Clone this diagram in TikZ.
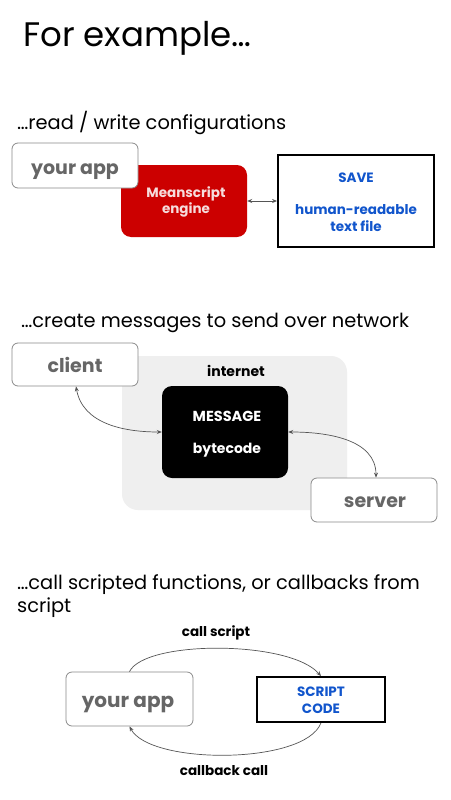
\documentclass[tikz,border=0pt]{standalone}
\usepackage{fontspec}
\setmainfont{Poppins}
\usetikzlibrary{arrows.meta}
\definecolor{appgrey}{HTML}{666666}
\definecolor{boxgrey}{HTML}{8A8A8A}
\definecolor{engred}{HTML}{CC0000}
\definecolor{engtext}{HTML}{F6DCDC}
\definecolor{savblue}{HTML}{1155CC}
\definecolor{netbg}{HTML}{EFEFEF}
\definecolor{arrgrey}{HTML}{555555}
\tikzset{
  heading/.style={anchor=base west, inner sep=0pt, font=\fontsize{19.4}{24}\selectfont},
  appbox/.style={draw=boxgrey, line width=0.8pt, fill=white, rounded corners=6pt, inner sep=0pt},
  apptext/.style={anchor=base, inner sep=0pt, text=appgrey, font=\fontsize{19}{22}\selectfont\bfseries},
  filebox/.style={draw=black, line width=1.8pt, fill=white, inner sep=0pt},
  conn/.style={draw=arrgrey, line width=0.7pt, {Stealth[length=5pt,width=4pt]}-{Stealth[length=5pt,width=4pt]}},
  oneway/.style={draw=arrgrey, line width=0.7pt, -{Stealth[length=5pt,width=4pt]}},
  lbl/.style={anchor=base, font=\fontsize{13.5}{16}\selectfont\bfseries, inner sep=0pt}
}
\begin{document}
\begin{tikzpicture}[x=1pt,y=1pt]
\useasboundingbox[fill=white] (0,0) rectangle (450,-800);
% title
\node[anchor=base west, inner sep=0pt, font=\fontsize{34}{40}\selectfont] (title) at (23,-47) {For example…};
% section 1
\node[heading] (h1) at (17,-129) {…read / write configurations};
\node[fill=engred, rounded corners=10pt, minimum width=126pt, minimum height=72pt, inner sep=0pt] (engine) at (184,-201) {};
\node[lbl, text=engtext] (engt1) at (186,-197) {Meanscript};
\node[lbl, text=engtext] (engt2) at (186,-213) {engine};
\node[appbox, minimum width=126pt, minimum height=45pt] (app1) at (75,-165.5) {};
\node[apptext] (app1t) at (75,-174) {your app};
\node[filebox, minimum width=156pt, minimum height=92pt] (save) at (356,-201) {};
\node[text=savblue, lbl] (savet) at (356,-182) {SAVE};
\node[text=savblue, lbl] (hrt1) at (356,-214) {human-readable};
\node[text=savblue, lbl] (hrt2) at (356,-231) {text file};
\draw[conn] (engine.east) -- (save.west);
% section 2
\node[heading] (h2) at (21,-327) {…create messages to send over network};
\node[fill=netbg, rounded corners=16pt, minimum width=225pt, minimum height=154pt, inner sep=0pt] (net) at (234.5,-433) {};
\node[lbl, font=\fontsize{14}{16}\selectfont\bfseries] (inet) at (236,-376) {internet};
\node[appbox, minimum width=126pt, minimum height=43pt] (client) at (75,-364.5) {};
\node[apptext] (clientt) at (75,-372) {client};
\node[fill=black, rounded corners=10pt, minimum width=126pt, minimum height=92pt, inner sep=0pt] (msg) at (225,-432) {};
\node[lbl, text=white, font=\fontsize{14.5}{16}\selectfont\bfseries] (msgt) at (227,-421) {MESSAGE};
\node[lbl, text=white, font=\fontsize{14}{16}\selectfont\bfseries] (bytet) at (227,-453) {bytecode};
\node[appbox, minimum width=126pt, minimum height=44pt] (server) at (374,-500) {};
\node[apptext] (servert) at (375,-507) {server};
\draw[conn] ([xshift=1pt]client.south) to[out=-80, in=180] (msg.west);
\draw[conn] (msg.east) to[out=0, in=90] ([xshift=2pt]server.north);
% section 3
\node[heading] (h3) at (17,-589) {…call scripted functions, or callbacks from};
\node[heading] (h3b) at (17,-612) {script};
\node[appbox, minimum width=127pt, minimum height=54pt] (app3) at (129.5,-699) {};
\node[apptext, font=\fontsize{20}{22}\selectfont\bfseries] (app3t) at (128,-707) {your app};
\node[filebox, minimum width=128pt, minimum height=45pt] (code) at (321,-699.5) {};
\node[text=savblue, lbl] (codet1) at (321,-696) {SCRIPT};
\node[text=savblue, lbl] (codet2) at (321,-713) {CODE};
\node[lbl] (calls) at (216,-636) {call script};
\node[lbl] (cbc) at (224,-775) {callback call};
\draw[oneway] (app3.north) .. controls (145,-640) and (290,-640) .. (code.north);
\draw[oneway] (code.south) .. controls (305,-765) and (150,-765) .. (app3.south);
\end{tikzpicture}
\end{document}
